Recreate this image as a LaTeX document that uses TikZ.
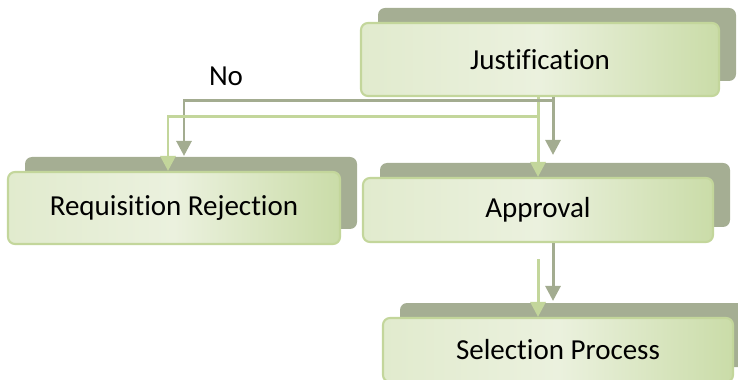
\documentclass[tikz,border=0pt]{standalone}
\usepackage{fontspec}
\setmainfont{Carlito}[Ligatures=NoCommon]
\usetikzlibrary{arrows.meta,shadows}

\definecolor{boxback}{HTML}{A5AE93}
\definecolor{boxedge}{HTML}{C3D69B}
\definecolor{boxlight}{HTML}{EBF1DE}
\definecolor{boxgreen}{HTML}{CADCA8}
\definecolor{linkdark}{HTML}{A3AC90}
\definecolor{linklight}{HTML}{C3D69B}

\begin{document}
\begin{tikzpicture}[font=\fontsize{16.5}{20}\selectfont,
  stage/.style={rectangle,rounded corners=0.14cm,draw=boxedge,line width=1.2pt,
    left color=boxlight!70!boxgreen,right color=boxgreen,middle color=boxlight,inner sep=0pt,
    general shadow={fill=boxback,draw=none,shadow xshift=0.34cm,shadow yshift=0.30cm}},
  darklink/.style={-{Triangle[width=0.3cm,length=0.3cm]},line width=1.7pt,linkdark},
  lightlink/.style={-{Triangle[width=0.3cm,length=0.3cm]},line width=1.7pt,linklight}]
\clip (0,0) rectangle (14.76,-7.6);

% Stages
\node[stage,minimum width=7.16cm,minimum height=1.46cm] (justif) at (10.80,-1.19) {Justification};
\node[stage,minimum width=6.64cm,minimum height=1.44cm] (reject) at (3.48,-4.16) {Requisition Rejection};
\node[stage,minimum width=7.0cm,minimum height=1.28cm] (approv) at (10.76,-4.20) {Approval};
\node[stage,minimum width=7.0cm,minimum height=1.28cm] (select) at (11.16,-7.00) {Selection Process};

% Label of the rejection branch
\node (nolabel) at (4.52,-1.52) {No};

% Justification down to approval
\draw[darklink,shorten >=0.44cm] ([xshift=0.3cm]approv.north |- justif.south) -- ([xshift=0.3cm]approv.north);
\draw[lightlink] (approv.north |- justif.south) -- (approv.north);

% Justification across to rejection
\draw[darklink,shorten >=0.3cm] ([xshift=0.3cm,yshift=-0.06cm]approv.north |- justif.south) -| ([xshift=0.2cm]reject.north);
\draw[lightlink] ([yshift=-0.38cm]approv.north |- justif.south) -| ([xshift=-0.12cm]reject.north);

% Approval down to selection
\draw[darklink,shorten >=0.32cm] ([xshift=0.3cm]approv.south) -- ([xshift=0.3cm]approv.south |- select.north);
\draw[lightlink,shorten <=0.32cm] (approv.south) -- (approv.south |- select.north);

\end{tikzpicture}
\end{document}
